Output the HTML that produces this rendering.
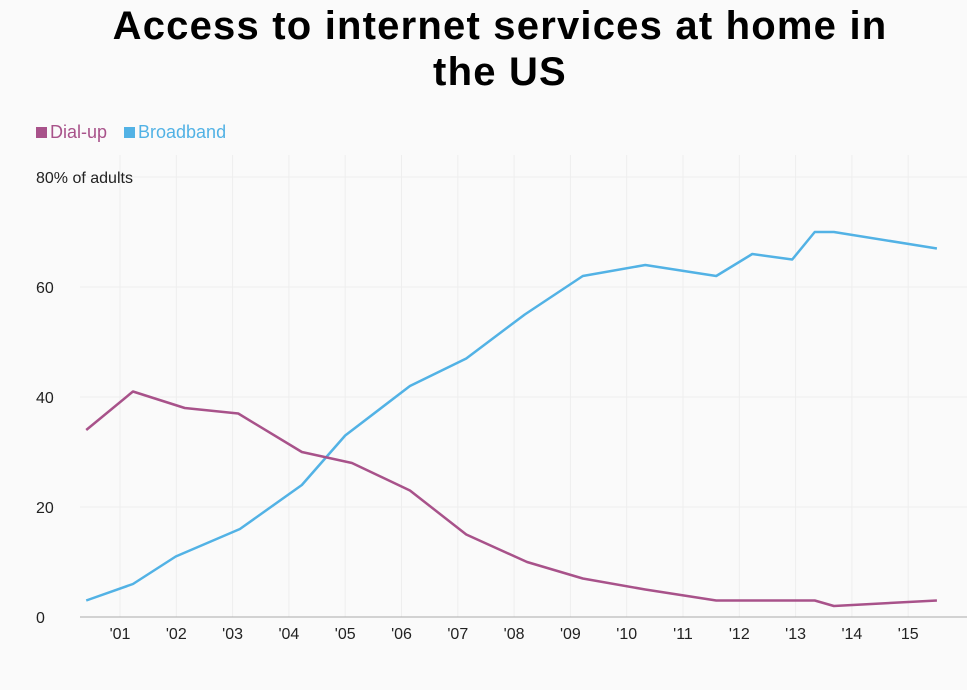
<!DOCTYPE html>
<html><head><meta charset="utf-8"><style>
body{margin:0;background:#fafafa;font-family:"Liberation Sans",sans-serif;}
#wrap{position:relative;width:967px;height:690px;overflow:hidden;background:#fafafa}
h1{position:absolute;top:3px;left:0;width:1000px;text-align:center;margin:0;font-size:40px;letter-spacing:1.2px;line-height:46px;font-weight:bold;color:#000}
.leg{position:absolute;top:122px;font-size:18px}
.sw{display:inline-block;width:11px;height:11px;margin-right:3px;vertical-align:0px}
</style></head><body>
<div id="wrap">
<h1>Access to internet services at home in<br>the US</h1>
<div class="leg" style="left:36px;color:#a8528a"><span class="sw" style="background:#a8528a"></span>Dial-up</div>
<div class="leg" style="left:124px;color:#52b2e5"><span class="sw" style="background:#52b2e5"></span>Broadband</div>
<svg id="svg" width="967" height="690" style="position:absolute;left:0;top:0"></svg>
</div>
<script>
const dialX=[2000.40,2001.23,2002.15,2003.10,2004.23,2005.12,2006.15,2007.15,2008.23,2009.22,2010.33,2011.59,2012.23,2013.34,2013.68,2015.51];
const dialY=[34,41,38,37,30,28,23,15,10,7,5,3,3,3,2,3];
const bbX=[2000.40,2001.23,2001.99,2003.13,2004.23,2005.00,2006.15,2007.15,2008.19,2009.22,2010.33,2011.59,2012.23,2012.94,2013.34,2013.68,2015.51];
const bbY=[3,6,11,16,24,33,42,47,55,62,64,62,66,65,70,70,67];
const yTicks=[0,20,40,60,80];
const xTicks=[2001,2002,2003,2004,2005,2006,2007,2008,2009,2010,2011,2012,2013,2014,2015];
const xTickLabels=["'01","'02","'03","'04","'05","'06","'07","'08","'09","'10","'11","'12","'13","'14","'15"];
const sx=v=>120+(v-2001)*56.3;
const sy=v=>617-v*5.5;
const svg=document.getElementById('svg');const NS='http://www.w3.org/2000/svg';
function mk(t,a){const e=document.createElementNS(NS,t);for(const k in a)e.setAttribute(k,a[k]);svg.appendChild(e);return e;}
xTicks.forEach((t,i)=>{const l=mk('line',{x1:sx(t),x2:sx(t),y1:155,y2:617,stroke:'#eeeeee','stroke-width':1});


const tx=mk('text',{x:sx(t),y:639,'text-anchor':'middle','font-size':16,fill:'#222','font-family':'Liberation Sans, sans-serif'});tx.textContent=xTickLabels[i];

});
yTicks.forEach(t=>{if(t>0){const l=mk('line',{x1:80,x2:967,y1:sy(t),y2:sy(t),stroke:'#eeeeee','stroke-width':1});

}
const tx=mk('text',{x:36,y:sy(t)+6,'font-size':16,fill:'#222','font-family':'Liberation Sans, sans-serif'});tx.textContent=t===80?'80% of adults':String(t);

});
const ax=mk('line',{x1:80,x2:967,y1:617,y2:617,stroke:'#aaa','stroke-width':1});


function line(xs,ys,c,n){const p=mk('polyline',{points:xs.map((x,i)=>sx(x)+','+sy(ys[i])).join(' '),fill:'none',stroke:c,'stroke-width':2.5,'stroke-linejoin':'round'});

}
line(bbX,bbY,'#52b2e5','broadband-line');
line(dialX,dialY,'#a8528a','dial-up-line');
</script>
</body></html>
